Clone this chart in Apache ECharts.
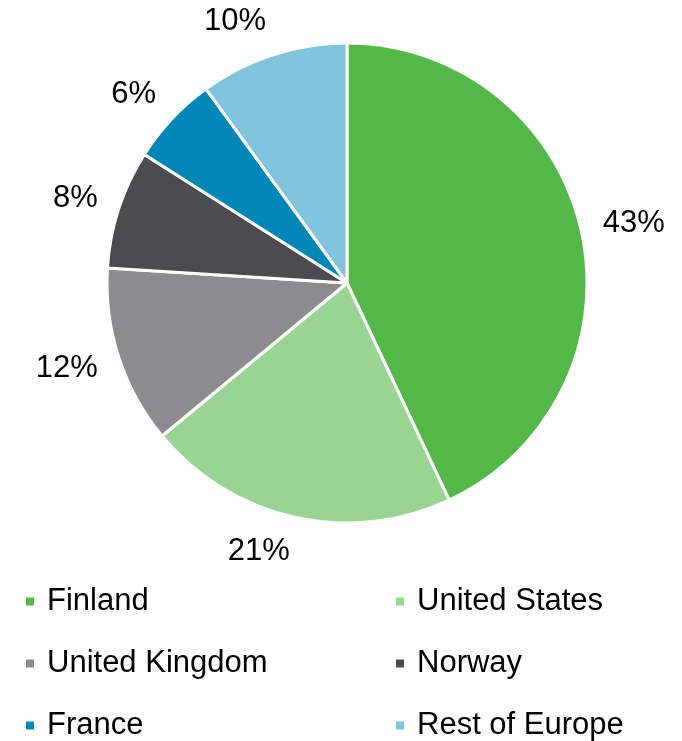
<!DOCTYPE html>
<html>
<head>
<meta charset="utf-8">
<script src="https://cdn.jsdelivr.net/npm/echarts@6/dist/echarts.min.js"></script>
<style>
  html, body { margin: 0; padding: 0; background: #ffffff; }
  #chart { width: 682px; height: 741px; }
</style>
</head>
<body>
<div id="chart"></div>
<script>
// Share by country
const countries = ['Finland', 'United States', 'United Kingdom', 'Norway', 'France', 'Rest of Europe'];
const shares = [43, 21, 12, 8, 6, 10];
const colors = ['#53B848', '#98D493', '#8C8C8E', '#4C4C4E', '#0087B8', '#7FC3DD'];

// legend grid: two columns, three rows
const legendLeftColumn = ['Finland', 'United Kingdom', 'France'];
const legendRightColumn = ['United States', 'Norway', 'Rest of Europe'];

const CX = 347, CY = 283, R = 240;
const LABEL_GAP = 22;     // distance from rim to the label's inner corner
const LABEL_HALF_H = 13;  // vertical shift of labels toward the outside
const total = shares.reduce((a, b) => a + b, 0);

// mid angle of each slice, measured clockwise from 12 o'clock
const midAngles = [];
let acc = 0;
shares.forEach(v => {
  midAngles.push((acc + v / 2) / total * 2 * Math.PI);
  acc += v;
});

const FONT = 'Liberation Sans, Arial, sans-serif';
const chart = echarts.init(document.getElementById('chart'), null, { renderer: 'canvas' });

const legendText = { fontFamily: FONT, fontSize: 31, color: '#000', padding: [0, 0, 0, 7] };
const LEGEND_TOP = 586, LEGEND_ROW = 62;

function legendItem(left, row, name) {
  return {
    orient: 'horizontal', left: left, top: LEGEND_TOP + row * LEGEND_ROW, padding: 0,
    icon: 'rect', itemWidth: 10, itemHeight: 10,
    data: [name], textStyle: legendText, selectedMode: false
  };
}

const legends = [];
legendLeftColumn.forEach((n, i) => legends.push(legendItem(24, i, n)));
legendRightColumn.forEach((n, i) => legends.push(legendItem(394, i, n)));

chart.setOption({
  animation: false,
  color: colors,
  legend: legends,
  series: [{
    type: 'pie',
    center: [CX, CY],
    radius: [0, R],
    startAngle: 90,
    clockwise: true,
    silent: true,
    itemStyle: { borderColor: '#ffffff', borderWidth: 3 },
    label: {
      show: true,
      position: 'outside',
      formatter: '{c}%',
      fontFamily: FONT,
      fontSize: 31,
      color: '#000',
      overflow: 'none',
      bleedMargin: 0
    },
    labelLine: { show: false, length: 0, length2: 0 },
    labelLayout: function (params) {
      const a = midAngles[params.dataIndex];
      const dx = Math.sin(a), dy = -Math.cos(a);
      const d = R + LABEL_GAP;
      return {
        x: CX + dx * d,
        y: CY + dy * d + dy * LABEL_HALF_H,
        align: dx >= 0 ? 'left' : 'right',
        verticalAlign: 'middle'
      };
    },
    data: countries.map((name, i) => ({ name: name, value: shares[i] }))
  }]
});
</script>
</body>
</html>
